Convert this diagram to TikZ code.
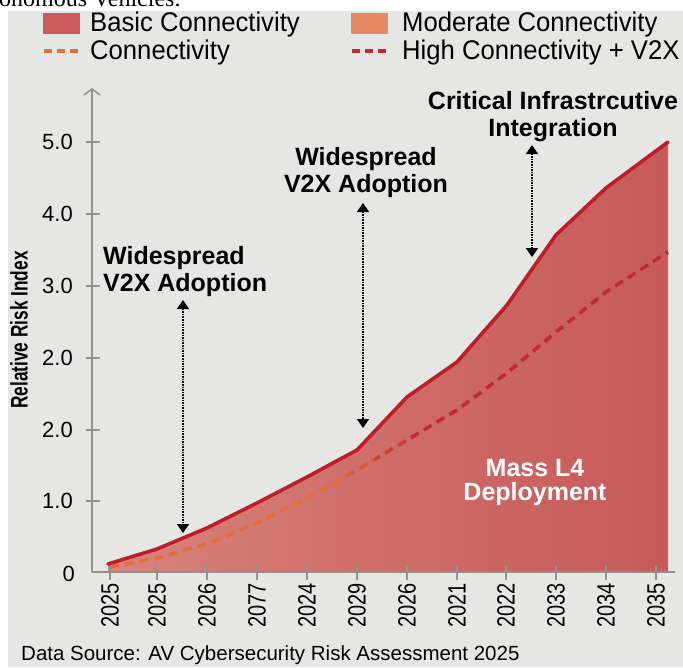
\documentclass[tikz,border=0pt]{standalone}
\usepackage{fontspec}
\setmainfont{Liberation Sans}
\newfontfamily\narrowsans[FakeStretch=0.8]{Liberation Sans}
\newfontfamily\legendsans[FakeStretch=0.95]{Liberation Sans}
\newfontfamily\titlesans[FakeStretch=0.72]{Liberation Sans Bold}
\newfontfamily\bodyserif{Liberation Serif}
\usetikzlibrary{arrows.meta}

\definecolor{bgpanel}{RGB}{230,230,228}
\definecolor{riskline}{RGB}{192,30,38}
\definecolor{riskfillL}{RGB}{216,132,126}
\definecolor{riskfillM}{RGB}{206,108,104}
\definecolor{riskfillR}{RGB}{198,90,90}
\definecolor{basicbox}{RGB}{205,90,92}
\definecolor{moderatebox}{RGB}{232,136,96}
\definecolor{dashorange}{RGB}{226,112,52}
\definecolor{dashred}{RGB}{192,42,52}
\definecolor{axisgray}{RGB}{145,145,145}

\begin{document}
\begin{tikzpicture}[x=1pt,y=-1pt,
  legendtext/.style={anchor=base west, font=\legendsans\fontsize{27}{30}\selectfont, inner sep=0pt},
  ticklabel/.style={anchor=east, font=\fontsize{22}{24}\selectfont, inner sep=0pt},
  yearlabel/.style={rotate=90, anchor=east, font=\narrowsans\fontsize{25}{28}\selectfont, inner sep=0pt},
  callout/.style={font=\bfseries\fontsize{25}{27}\selectfont, align=center, inner sep=0pt},
  calloutarrow/.style={densely dotted, line width=1.6pt,
    {Triangle[width=12pt,length=9pt]}-{Triangle[width=12pt,length=9pt]}},
  axisline/.style={draw=axisgray, line width=1.5pt},
  riskcurve/.style={draw=riskline, line width=3.6pt, line join=round, line cap=round},
  dashline/.style={line width=3.6pt, dash pattern=on 9pt off 6pt, line join=round},
]
\useasboundingbox (0,0) rectangle (683,667);

% page margin with the tail of the preceding sentence
\fill[white] (0,0) rectangle (683,667);
\node[anchor=base west, inner sep=0pt, font=\bodyserif\fontsize{24}{26}\selectfont] (prevline) at (-1,6) {onomous Vehicles.};
\fill[bgpanel] (8,11) rectangle (683,667);

% legend
\fill[basicbox] (43,13) rectangle (80,34);
\node[legendtext] (legA) at (90,31) {Basic Connectivity};
\fill[moderatebox] (351,13) rectangle (388,34);
\node[legendtext] (legB) at (402,31) {Moderate Connectivity};
\draw[dashorange, line width=3.5pt, dash pattern=on 8pt off 5pt] (44,51) -- (80,51);
\node[legendtext] (legC) at (90,59) {Connectivity};
\draw[dashred, line width=3.5pt, dash pattern=on 8pt off 5pt] (352,51) -- (388,51);
\node[legendtext] (legD) at (402,59) {High Connectivity + V2X};

% shaded risk area under the upper curve
\shade[left color=riskfillL, right color=riskfillR, middle color=riskfillM]
  (108,572) -- (108,564) -- (157,549) -- (207,528) -- (257,503) -- (307,477) -- (357,450)
  -- (407,397) -- (457,362) -- (507,305) -- (556,235) -- (606,188) -- (668,142) -- (668,572) -- cycle;

% lower dashed trend, orange fading into red
\foreach \xa/\xb/\c in {0/345/dashorange, 345/375/dashorange!70!dashred, 375/405/dashorange!35!dashred, 405/700/dashred} {
  \begin{scope}
    \clip (\xa,60) rectangle (\xb,600);
    \draw[dashline, draw=\c] (110,567) -- (157,558) -- (207,544) -- (257,523) -- (307,498) -- (357,470)
      -- (407,440) -- (457,410) -- (507,373) -- (556,332) -- (606,292) -- (668,252);
  \end{scope}
}

% upper curve
\draw[riskcurve] (108,564) -- (157,549) -- (207,528) -- (257,503) -- (307,477) -- (357,450)
  -- (407,397) -- (457,362) -- (507,305) -- (556,235) -- (606,188) -- (668,142);

% axes
\draw[axisline, -{Straight Barb[length=6pt,width=16pt]}] (92,572) -- (92,88);
\draw[axisline] (92,572) -- (675,572);
\foreach \yy/\lab [count=\i] in {142/5.0, 214/4.0, 286/3.0, 358/2.0, 430/2.0, 501/1.0} {
  \draw[axisline] (86,\yy) -- (100,\yy);
  \node[ticklabel] (ylab\i) at (73,\yy) {\lab};
}
\node[ticklabel] (ylab0) at (75,574) {0};
\foreach \xx/\lab [count=\i] in {110/2025, 157/2025, 207/2026, 257/2077, 307/2024, 357/2029, 407/2026, 457/2021, 506/2022, 556/2033, 606/2034, 656/2035} {
  \draw[axisline] (\xx,566) -- (\xx,580);
  \node[yearlabel] (xlab\i) at (\xx,583) {\lab};
}
\node[rotate=90, inner sep=0pt, font=\titlesans\fontsize{24}{26}\selectfont] (ytitle) at (19,330) {Relative Risk Index};

% callouts
\node[callout, align=left, anchor=west] (adoptA) at (103,272) {Widespread\\V2X Adoption};
\coordinate (adoptAtop) at (183,300);
\coordinate (adoptAbot) at (183,533);
\draw[calloutarrow] (adoptAtop) -- (adoptAbot);

\node[callout] (adoptB) at (366,173) {Widespread\\V2X Adoption};
\coordinate (adoptBtop) at (363,203);
\coordinate (adoptBbot) at (363,428);
\draw[calloutarrow] (adoptBtop) -- (adoptBbot);

\node[callout] (critical) at (553,117) {Critical Infrastrcutive\\Integration};
\coordinate (criticaltop) at (532,145);
\coordinate (criticalbot) at (532,257);
\draw[calloutarrow] (criticaltop) -- (criticalbot);

\node[callout, text=white, font=\bfseries\fontsize{25}{24}\selectfont] (mass) at (535,482) {Mass L4\\Deployment};

% source line
\node[anchor=west, inner sep=0pt, font=\fontsize{20.5}{22}\selectfont] (source) at (21,655) {Data Source: AV Cybersecurity Risk Assessment 2025};
\end{tikzpicture}
\end{document}
